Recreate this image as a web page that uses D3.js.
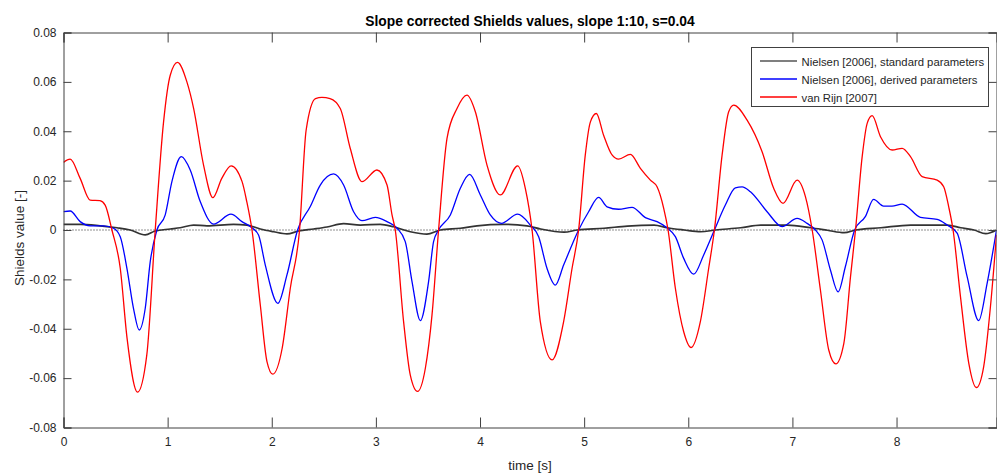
<!DOCTYPE html>
<html>
<head>
<meta charset="utf-8">
<script src="https://cdn.jsdelivr.net/npm/d3@7.9.0/dist/d3.min.js"></script>
<style>
  body { margin: 0; background: #fff; }
  svg { display: block; font-family: "Liberation Sans", Arial, sans-serif; }
</style>
</head>
<body>
<svg id="chart" width="997" height="473"></svg>
<script>
// values
const xTicks = [0, 1, 2, 3, 4, 5, 6, 7, 8];
const yTicks = [-0.08, -0.06, -0.04, -0.02, 0, 0.02, 0.04, 0.06, 0.08];
const yTickLabels = ['-0.08', '-0.06', '-0.04', '-0.02', '0', '0.02', '0.04', '0.06', '0.08'];
const seriesNames = ['Nielsen [2006], standard parameters', 'Nielsen [2006], derived parameters', 'van Rijn [2007]'];

const stdTime = [0, 0.16, 0.35, 0.513, 0.64, 0.785, 0.881, 1.025, 1.121, 1.249, 1.378, 1.633, 1.762, 1.89, 2.017, 2.146, 2.258, 2.402, 2.53, 2.69, 2.85, 3.042, 3.17, 3.33, 3.49, 3.619, 3.811, 3.971, 4.227, 4.451, 4.582, 4.807, 4.935, 5.191, 5.415, 5.671, 5.799, 5.96, 6.119, 6.263, 6.503, 6.696, 6.952, 7.176, 7.336, 7.497, 7.608, 7.848, 8.136, 8.489, 8.617, 8.745, 8.857, 8.96];
const stdValue = [0.0023, 0.0023, 0.0017, 0.0009, 0, -0.002, -0.0004, 0.0004, 0.0009, 0.002, 0.0017, 0.0023, 0.002, 0.0004, -0.0007, -0.0016, -0.0004, 0.0004, 0.0012, 0.0026, 0.002, 0.0023, 0.0013, -0.0007, -0.0017, 0, 0.0007, 0.0017, 0.0023, 0.0017, 0.0004, -0.0009, 0, 0.0007, 0.0016, 0.002, 0.0009, 0, -0.0007, 0, 0.0009, 0.002, 0.002, 0.0009, -0.0001, -0.0011, 0, 0.0009, 0.002, 0.002, 0.0009, 0, -0.0015, 0];

const derTime = [0, 0.064, 0.16, 0.256, 0.384, 0.48, 0.545, 0.609, 0.672, 0.727, 0.785, 0.833, 0.897, 0.977, 1.041, 1.131, 1.217, 1.313, 1.441, 1.608, 1.714, 1.81, 1.873, 1.938, 2.059, 2.146, 2.248, 2.37, 2.466, 2.594, 2.69, 2.786, 2.866, 2.994, 3.107, 3.203, 3.282, 3.347, 3.427, 3.506, 3.554, 3.602, 3.715, 3.811, 3.9, 4.003, 4.099, 4.205, 4.361, 4.483, 4.563, 4.643, 4.723, 4.803, 4.947, 5.043, 5.139, 5.22, 5.331, 5.46, 5.588, 5.7, 5.796, 5.876, 5.956, 6.052, 6.148, 6.251, 6.356, 6.452, 6.517, 6.597, 6.757, 6.901, 7.045, 7.141, 7.221, 7.285, 7.365, 7.439, 7.509, 7.598, 7.7, 7.78, 7.876, 7.956, 8.054, 8.23, 8.39, 8.486, 8.582, 8.678, 8.789, 8.87, 8.96];
const derValue = [0.0074, 0.0077, 0.0034, 0.0017, 0.0017, 0.0007, -0.0027, -0.0155, -0.0317, -0.0405, -0.0317, -0.0128, 0, 0.0061, 0.0196, 0.0297, 0.0243, 0.0115, 0.0024, 0.0064, 0.0034, 0.0009, -0.002, -0.0142, -0.0297, -0.0182, 0, 0.0095, 0.0182, 0.0227, 0.0182, 0.0074, 0.0038, 0.0051, 0.0034, 0.0007, -0.0047, -0.0209, -0.0367, -0.0209, -0.0047, 0, 0.0061, 0.0169, 0.0225, 0.0142, 0.0061, 0.0027, 0.0064, 0.002, -0.0027, -0.0155, -0.0223, -0.0142, 0, 0.0074, 0.0132, 0.0094, 0.0084, 0.0092, 0.005, 0.0034, 0.0009, -0.0027, -0.0115, -0.0179, -0.0101, 0, 0.0101, 0.0171, 0.0175, 0.0155, 0.0074, 0.0014, 0.0047, 0.0027, 0, -0.004, -0.0162, -0.0251, -0.0148, 0, 0.0054, 0.0124, 0.0097, 0.0097, 0.0105, 0.0051, 0.0043, 0.002, -0.0013, -0.0189, -0.0367, -0.0216, 0];

const rijnTime = [0, 0.064, 0.16, 0.256, 0.35, 0.4, 0.465, 0.545, 0.61, 0.711, 0.8, 0.881, 0.961, 1.025, 1.095, 1.185, 1.25, 1.345, 1.435, 1.52, 1.61, 1.715, 1.76, 1.81, 1.89, 1.954, 2.01, 2.1, 2.178, 2.267, 2.33, 2.42, 2.482, 2.56, 2.658, 2.754, 2.866, 3.01, 3.107, 3.155, 3.186, 3.266, 3.33, 3.4, 3.475, 3.539, 3.602, 3.683, 3.779, 3.875, 3.955, 4.067, 4.195, 4.361, 4.435, 4.5, 4.579, 4.692, 4.803, 4.884, 4.947, 5.011, 5.06, 5.117, 5.187, 5.268, 5.331, 5.444, 5.54, 5.636, 5.7, 5.764, 5.806, 5.876, 5.956, 6.027, 6.116, 6.196, 6.251, 6.325, 6.388, 6.436, 6.565, 6.709, 6.82, 6.91, 7.045, 7.125, 7.19, 7.269, 7.349, 7.417, 7.494, 7.558, 7.606, 7.67, 7.718, 7.766, 7.846, 7.958, 8.054, 8.134, 8.246, 8.39, 8.453, 8.501, 8.543, 8.614, 8.694, 8.767, 8.837, 8.902, 8.96];
const rijnValue = [0.0274, 0.0287, 0.0209, 0.0121, 0.0119, 0.0101, 0, -0.0155, -0.0437, -0.0657, -0.0506, 0, 0.0438, 0.0627, 0.0679, 0.06, 0.0492, 0.0263, 0.0131, 0.0209, 0.026, 0.0196, 0.0115, 0, -0.0304, -0.0533, -0.0584, -0.0479, -0.0236, 0, 0.0404, 0.0532, 0.0537, 0.0532, 0.0492, 0.033, 0.0196, 0.0243, 0.0182, 0.0061, 0, -0.0371, -0.0587, -0.0654, -0.056, -0.0344, 0, 0.0371, 0.0492, 0.0546, 0.0479, 0.0263, 0.0142, 0.026, 0.0169, 0, -0.0371, -0.0526, -0.0371, -0.0155, 0, 0.0304, 0.0438, 0.0472, 0.0384, 0.0304, 0.0287, 0.0306, 0.025, 0.0202, 0.0175, 0.0088, 0, -0.0236, -0.0412, -0.0476, -0.0371, -0.0155, 0, 0.0304, 0.0479, 0.0506, 0.0445, 0.0317, 0.0169, 0.0108, 0.0202, 0.0135, 0, -0.0243, -0.0486, -0.0542, -0.0459, -0.0189, 0, 0.0297, 0.0432, 0.0463, 0.0378, 0.0324, 0.0331, 0.0297, 0.0216, 0.0202, 0.0175, 0.0094, 0, -0.027, -0.054, -0.0638, -0.0553, -0.031, -0.002];

const seriesColors = ['#333333', '#0000ff', '#ff0000'];

const margin = { top: 32.5, right: 0.5, bottom: 45.5, left: 63.5 };
const width = 997, height = 473;

let svg = d3.select('#chart');

let x = d3.scaleLinear().domain([0, 8.96]).range([margin.left, width - margin.right]);
let y = d3.scaleLinear().domain([-0.08, 0.08]).range([height - margin.bottom, margin.top]);

const axisColor = '#404040';
const textColor = '#262626';

svg.append('clipPath').attr('id', 'plot-clip')
   .append('rect')
   .attr('x', margin.left).attr('y', margin.top)
   .attr('width', x.range()[1] - margin.left)
   .attr('height', y.range()[0] - margin.top);

// zero reference line (dotted)
svg.append('line')
   .attr('x1', x(0)).attr('x2', x(8.96))
   .attr('y1', y(0)).attr('y2', y(0))
   .attr('stroke', '#222').attr('stroke-width', 1)
   .attr('stroke-dasharray', '1,2');

let lineGen = d3.line()
   .x(d => x(d[0]))
   .y(d => y(d[1]))
   .curve(d3.curveMonotoneX);

let series = [
  { times: stdTime, values: stdValue, width: 1.7 },
  { times: derTime, values: derValue, width: 1.3 },
  { times: rijnTime, values: rijnValue, width: 1.3 }
];

series.forEach((s, idx) => {
  svg.append('path')
     .datum(s.times.map((t, i) => [t, s.values[i]]))
     .attr('clip-path', 'url(#plot-clip)')
     .attr('d', lineGen)
     .attr('fill', 'none')
     .attr('stroke', seriesColors[idx])
     .attr('stroke-width', s.width)
     .attr('stroke-linejoin', 'round');
});

// axes, MATLAB style: ticks pointing inward on all four sides
let xBottom = d3.axisBottom(x).tickValues(xTicks).tickSize(-10).tickPadding(10).tickFormat(d3.format('d'));
let xTop = d3.axisTop(x).tickValues(xTicks).tickSize(-10).tickFormat('');
let yLeft = d3.axisLeft(y).tickValues(yTicks).tickSize(-8).tickPadding(7)
   .tickFormat((d, i) => yTickLabels[i]);
let yRight = d3.axisRight(y).tickValues(yTicks).tickSize(-8).tickFormat('');

function styleAxis(g) {
  g.selectAll('.domain').attr('stroke', axisColor);
  g.selectAll('.tick line').attr('stroke', axisColor);
  g.selectAll('.tick text').attr('fill', textColor).style('font-size', '12px');
  g.attr('font-family', null);
}

svg.append('g').attr('transform', `translate(0,${y(-0.08)})`).call(xBottom).call(styleAxis);
svg.append('g').attr('transform', `translate(0,${y(0.08)})`).call(xTop).call(styleAxis);
svg.append('g').attr('transform', `translate(${x(0)},0)`).call(yLeft).call(styleAxis);
svg.append('g').attr('transform', `translate(${x(8.96)},0)`).call(yRight).call(styleAxis);

// title and axis labels
svg.append('text')
   .attr('x', (x(0) + x(8.96)) / 2).attr('y', 26)
   .attr('text-anchor', 'middle')
   .attr('font-weight', 'bold').attr('font-size', '13.8px')
   .attr('fill', '#000')
   .text('Slope corrected Shields values, slope 1:10, s=0.04');

svg.append('text')
   .attr('x', (x(0) + x(8.96)) / 2).attr('y', 470)
   .attr('text-anchor', 'middle')
   .attr('font-size', '13.5px').attr('fill', textColor)
   .text('time [s]');

svg.append('text')
   .attr('transform', 'translate(24,238) rotate(-90)')
   .attr('text-anchor', 'middle')
   .attr('font-size', '13.5px').attr('fill', textColor)
   .text('Shields value [-]');

// legend
let legend = svg.append('g').attr('transform', 'translate(751.5,47.5)');
legend.append('rect')
      .attr('width', 237).attr('height', 59)
      .attr('fill', '#fff').attr('stroke', axisColor);

seriesNames.forEach((name, idx) => {
  let ly = 13.5 + idx * 18;
  legend.append('line')
        .attr('x1', 8.5).attr('x2', 45.5)
        .attr('y1', ly).attr('y2', ly)
        .attr('stroke', idx === 0 ? '#555' : seriesColors[idx])
        .attr('stroke-width', 1.3);
  legend.append('text')
        .attr('x', 50).attr('y', ly + 4.5)
        .attr('font-size', '11.3px').attr('fill', textColor)
        .text(name);
});
</script>
</body>
</html>
